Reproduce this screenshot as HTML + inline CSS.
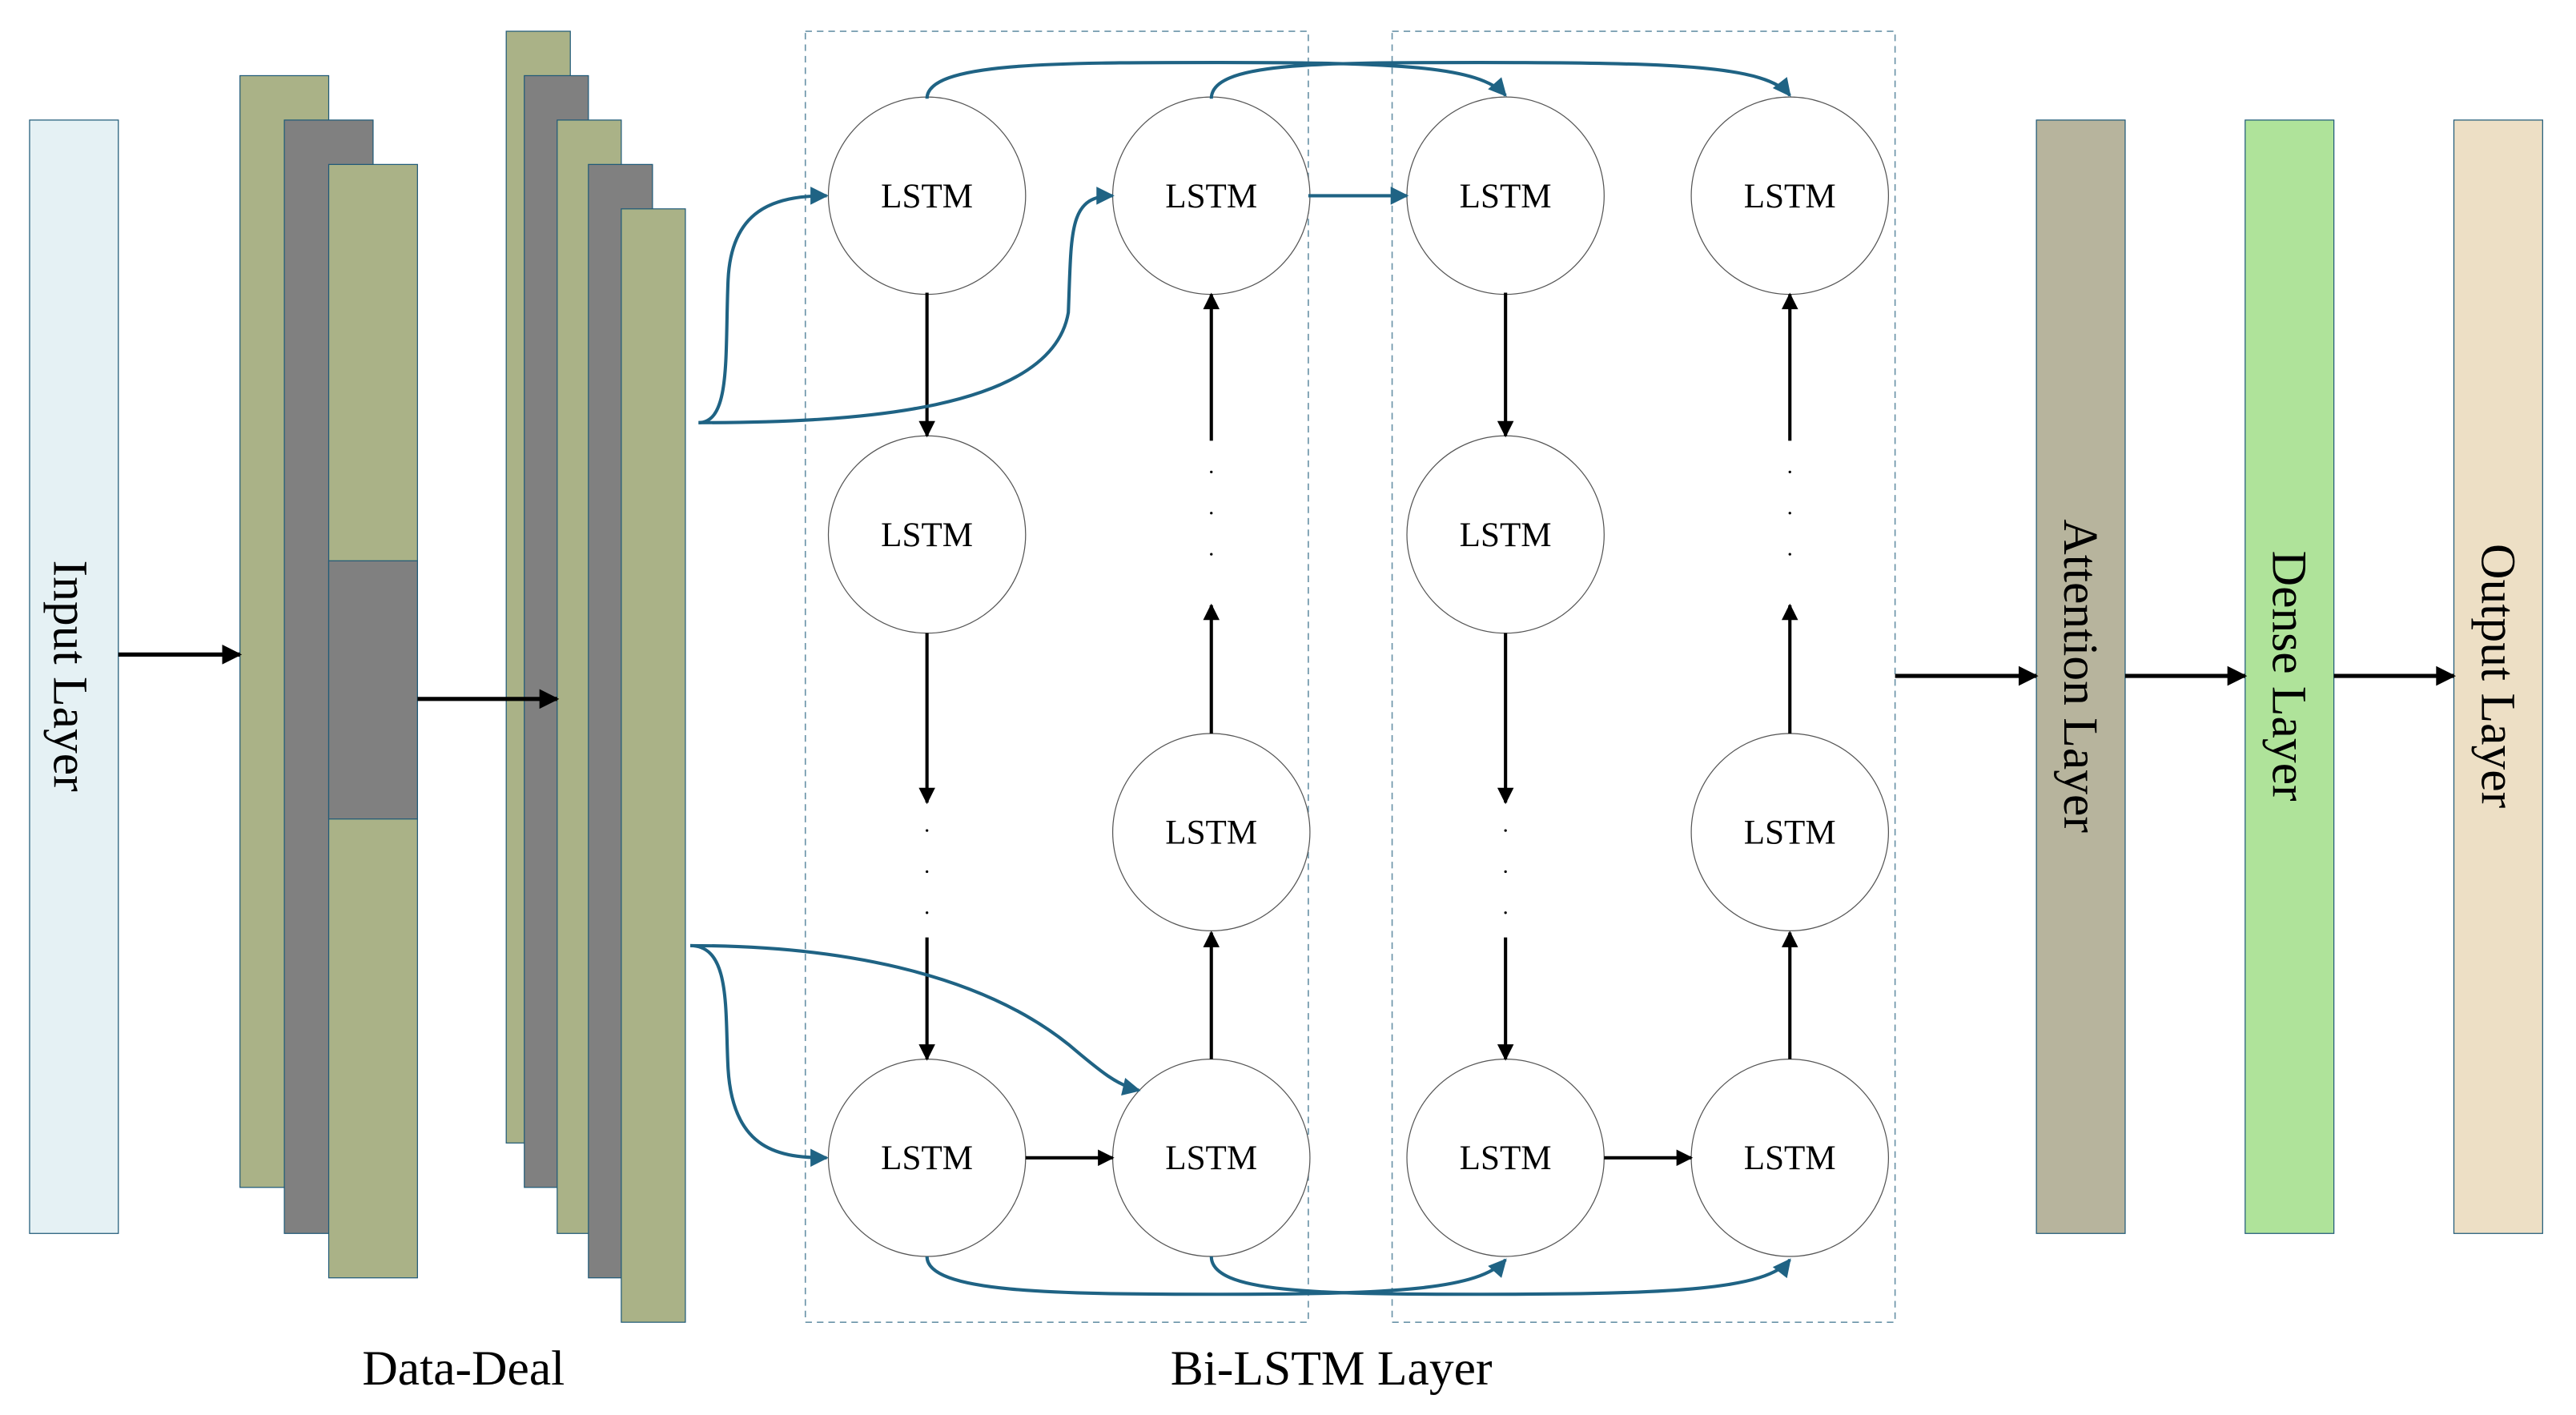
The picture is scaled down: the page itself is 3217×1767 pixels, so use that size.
<!DOCTYPE html>
<html><head><meta charset="utf-8"><style>html,body{margin:0;padding:0;background:#fff}svg{display:block}</style></head><body>
<svg width="3217" height="1767" viewBox="0 0 1567.3 860.4" preserveAspectRatio="none" xmlns="http://www.w3.org/2000/svg" font-family="Liberation Serif, serif">
<defs>
<marker id="ak" viewBox="0 0 10 10" refX="9" refY="5" markerWidth="11" markerHeight="10" orient="auto" markerUnits="userSpaceOnUse"><path d="M0,0 L10,5 L0,10 z" fill="#000"/></marker>
<marker id="akb" viewBox="0 0 10 10" refX="9" refY="5" markerWidth="14" markerHeight="12" orient="auto" markerUnits="userSpaceOnUse"><path d="M0,0 L10,5 L0,10 z" fill="#000"/></marker>
<marker id="ab" viewBox="0 0 10 10" refX="9" refY="5" markerWidth="14" markerHeight="11" orient="auto" markerUnits="userSpaceOnUse"><path d="M0,0 L10,5 L0,10 z" fill="#1f6384"/></marker>
</defs>
<g stroke="#1f5a78" stroke-width="0.6">
<rect x="18" y="73" width="54" height="677" fill="#e5f1f4"/>
<rect x="146" y="46" width="54" height="676" fill="#aab287"/>
<rect x="173" y="73" width="54" height="677" fill="#808080"/>
<rect x="200" y="100" width="54" height="677" fill="#aab287"/>
<rect x="200" y="341" width="54" height="157" fill="#808080"/>
<rect x="308" y="19" width="39" height="676" fill="#aab287"/>
<rect x="319" y="46" width="39" height="676" fill="#808080"/>
<rect x="339" y="73" width="39" height="677" fill="#aab287"/>
<rect x="358" y="100" width="39" height="677" fill="#808080"/>
<rect x="378" y="127" width="39" height="677" fill="#aab287"/>
<rect x="1239" y="73" width="54" height="677" fill="#b7b49d"/>
<rect x="1366" y="73" width="54" height="677" fill="#afe39a"/>
<rect x="1493" y="73" width="54" height="677" fill="#eddfc5"/>
</g>
<g fill="none" stroke="#6a93a8" stroke-width="0.8" stroke-dasharray="4,3">
<rect x="490" y="19" width="306" height="785"/>
<rect x="847" y="19" width="306" height="785"/>
</g>
<g font-size="30" fill="#000">
<text transform="translate(33,411) rotate(90)" text-anchor="middle">Input Layer</text>
<text transform="translate(1256,411) rotate(90)" text-anchor="middle">Attention Layer</text>
<text transform="translate(1383,411) rotate(90)" text-anchor="middle">Dense Layer</text>
<text transform="translate(1510,411) rotate(90)" text-anchor="middle">Output Layer</text>
<text x="282" y="842" text-anchor="middle">Data-Deal</text>
<text x="810" y="842" text-anchor="middle">Bi-LSTM Layer</text>
</g>
<g stroke="#000" stroke-width="2.5" marker-end="url(#akb)">
<line x1="72" y1="398" x2="146" y2="398"/>
<line x1="254" y1="425" x2="339" y2="425"/>
<line x1="1153" y1="411" x2="1239" y2="411"/>
<line x1="1293" y1="411" x2="1366" y2="411"/>
<line x1="1420" y1="411" x2="1493" y2="411"/>
</g>
<g fill="#fff" stroke="#555" stroke-width="0.6">
<circle cx="564" cy="119" r="60"/><circle cx="737" cy="119" r="60"/><circle cx="916" cy="119" r="60"/><circle cx="1089" cy="119" r="60"/>
<circle cx="564" cy="325" r="60"/><circle cx="916" cy="325" r="60"/>
<circle cx="737" cy="506" r="60"/><circle cx="1089" cy="506" r="60"/>
<circle cx="564" cy="704" r="60"/><circle cx="737" cy="704" r="60"/><circle cx="916" cy="704" r="60"/><circle cx="1089" cy="704" r="60"/>
</g>
<g font-size="21" text-anchor="middle" fill="#000">
<text x="564" y="126">LSTM</text><text x="737" y="126">LSTM</text><text x="916" y="126">LSTM</text><text x="1089" y="126">LSTM</text>
<text x="564" y="332">LSTM</text><text x="916" y="332">LSTM</text>
<text x="737" y="513">LSTM</text><text x="1089" y="513">LSTM</text>
<text x="564" y="711">LSTM</text><text x="737" y="711">LSTM</text><text x="916" y="711">LSTM</text><text x="1089" y="711">LSTM</text>
</g>
<g stroke="#000" stroke-width="2" marker-end="url(#ak)">
<line x1="564" y1="178" x2="564" y2="265"/>
<line x1="564" y1="385" x2="564" y2="488"/>
<line x1="564" y1="570" x2="564" y2="644"/>
<line x1="916" y1="178" x2="916" y2="265"/>
<line x1="916" y1="385" x2="916" y2="488"/>
<line x1="916" y1="570" x2="916" y2="644"/>
<line x1="737" y1="644" x2="737" y2="567"/>
<line x1="737" y1="446" x2="737" y2="368"/>
<line x1="737" y1="268" x2="737" y2="179"/>
<line x1="1089" y1="644" x2="1089" y2="567"/>
<line x1="1089" y1="446" x2="1089" y2="368"/>
<line x1="1089" y1="268" x2="1089" y2="179"/>
<line x1="624" y1="704" x2="677" y2="704"/>
<line x1="976" y1="704" x2="1029" y2="704"/>
</g>
<g fill="#000">
<circle cx="564" cy="505" r="0.8"/><circle cx="564" cy="530" r="0.8"/><circle cx="564" cy="555" r="0.8"/>
<circle cx="916" cy="505" r="0.8"/><circle cx="916" cy="530" r="0.8"/><circle cx="916" cy="555" r="0.8"/>
<circle cx="737" cy="287" r="0.8"/><circle cx="737" cy="312" r="0.8"/><circle cx="737" cy="337" r="0.8"/>
<circle cx="1089" cy="287" r="0.8"/><circle cx="1089" cy="312" r="0.8"/><circle cx="1089" cy="337" r="0.8"/>
</g>
<g fill="none" stroke="#1f6384" stroke-width="2" marker-end="url(#ab)">
<path d="M425,257 C445,257 441,215 443,170 C445,128 470,119 503,119"/>
<path d="M425,257 C520,257 640,250 650,190 C652,140 650,119 677,119"/>
<path d="M420,575 C445,575 441,615 443,650 C446,700 475,704 503,704"/>
<path d="M420,575 C520,575 600,595 650,635 C670,652 680,660 693,663"/>
<path d="M796,119 L856,119"/>
<path d="M564,60 C564,38 640,38 740,38 C850,38 900,40 916,58"/>
<path d="M737,60 C737,38 800,38 900,38 C1020,38 1075,40 1089,58"/>
<path d="M564,764 C564,786 640,787 740,787 C850,787 900,784 916,766"/>
<path d="M737,764 C737,786 800,787 900,787 C1020,787 1075,784 1089,766"/>
</g>
</svg>
</body></html>
